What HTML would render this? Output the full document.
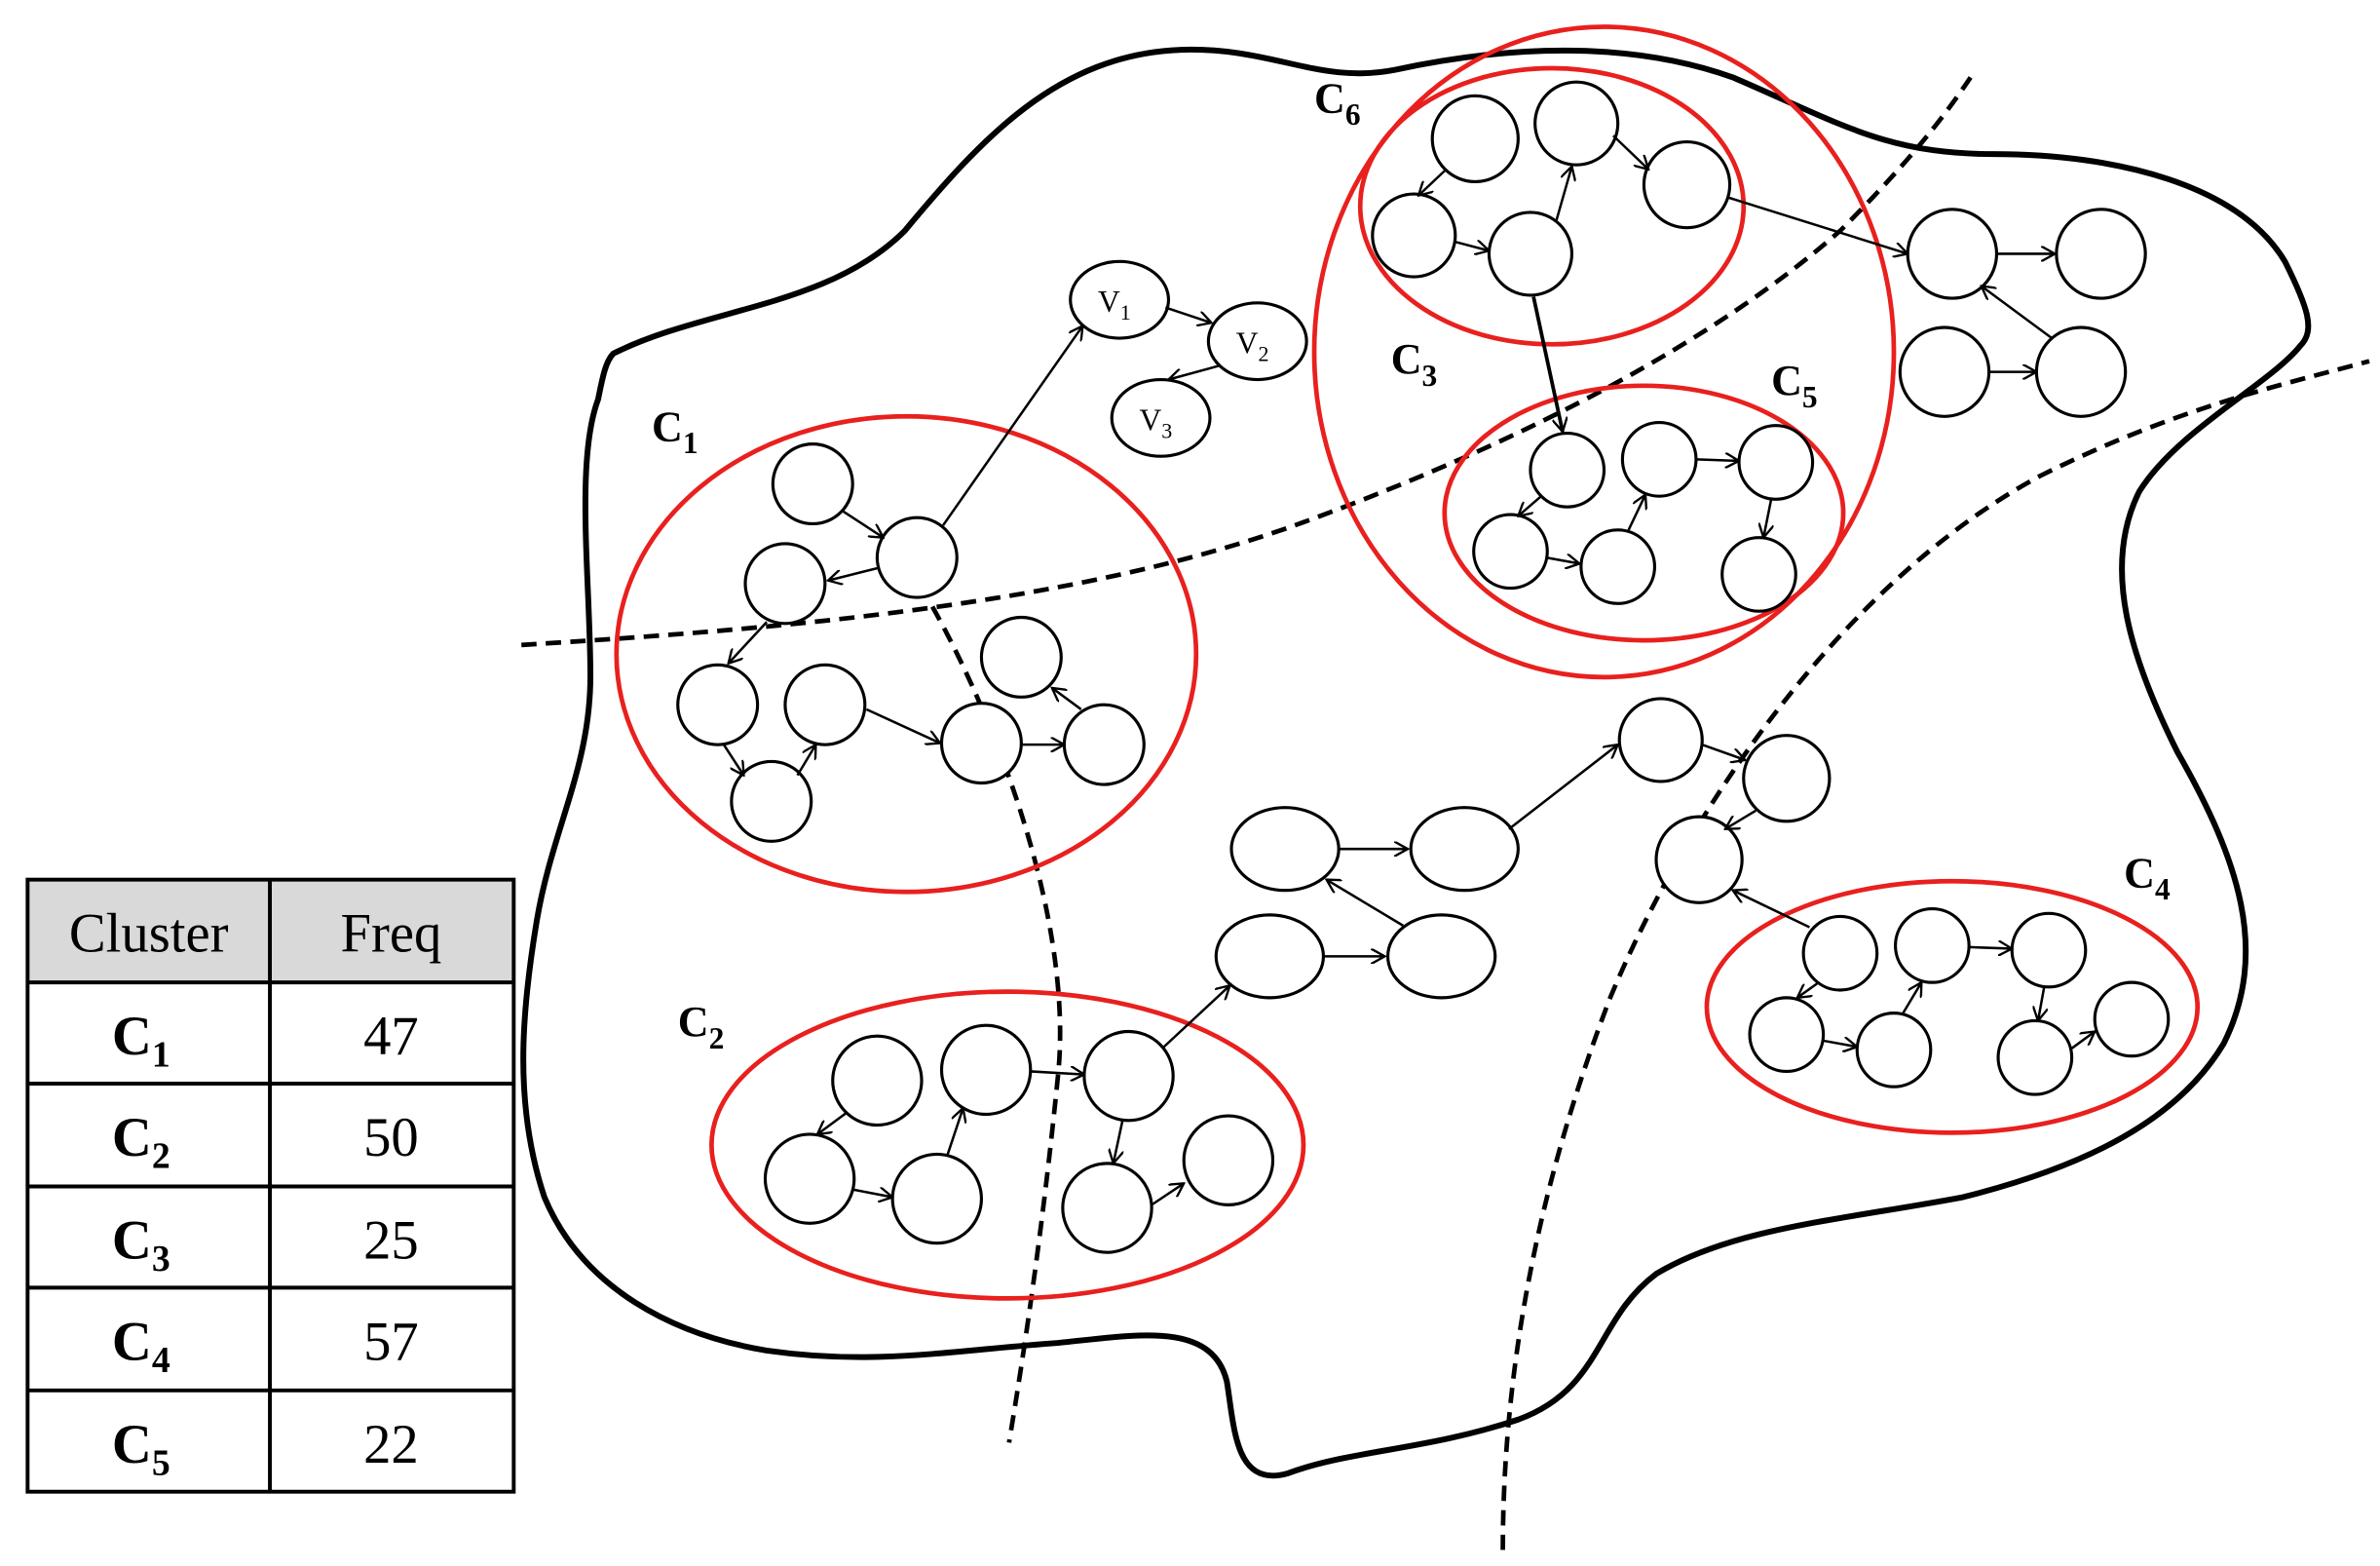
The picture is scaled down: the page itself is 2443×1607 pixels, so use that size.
<!DOCTYPE html>
<html><head><meta charset="utf-8"><style>
html,body{margin:0;padding:0;background:#fff}
svg{display:block}
text{font-family:"Liberation Serif",serif}
</style></head><body>
<svg width="2443" height="1607" viewBox="0 0 1552 1020" xmlns="http://www.w3.org/2000/svg">
<defs><marker id="a" markerWidth="10" markerHeight="10" refX="9" refY="5" orient="auto" markerUnits="userSpaceOnUse"><path d="M0,0 L9,5 L0,10" fill="none" stroke="#000" stroke-width="1.5"/></marker></defs>
<rect width="1552" height="1020" fill="#fff"/>
<path d="M400,230 C460,200 540,200 590,150 C640,90 690,35 770,32 C830,30 860,55 910,45 C980,30 1060,25 1130,50 C1200,80 1230,100 1300,100 C1380,100 1460,120 1490,170 C1505,200 1510,215 1500,225 C1480,250 1420,280 1395,320 C1370,370 1390,430 1420,490 C1460,560 1480,620 1450,680 C1420,730 1360,760 1280,780 C1200,795 1130,800 1080,830 C1040,860 1045,905 990,925 C930,945 880,945 840,960 C805,970 805,930 800,900 C790,860 740,870 690,875 C620,880 570,890 500,880 C440,870 380,840 355,780 C335,720 340,660 350,600 C360,540 385,500 385,440 C385,380 375,300 390,260 C393,245 395,235 400,230 Z" fill="none" stroke="#000" stroke-width="3.8"/>
<g fill="none" stroke="#000" stroke-width="3" stroke-dasharray="10,6">
<path d="M340,420 C500,410 700,395 850,340 C1000,285 1120,220 1200,150 C1240,110 1265,80 1285,50"/>
<path d="M608,395 C650,470 700,600 690,700 C680,800 668,880 658,940"/>
<path d="M980,1010 C980,900 1000,780 1050,650 C1100,530 1200,380 1330,310 C1420,265 1490,250 1545,235"/>
</g>
<g fill="none" stroke="#e8201e" stroke-width="3">
<ellipse cx="591" cy="426" rx="189" ry="155"/>
<ellipse cx="657" cy="746" rx="193" ry="100"/>
<ellipse cx="1046" cy="229" rx="189" ry="212"/>
<ellipse cx="1012" cy="134" rx="125" ry="90"/>
<ellipse cx="1072" cy="334" rx="130" ry="83"/>
<ellipse cx="1273" cy="656" rx="160" ry="82"/>
</g>
<g fill="#fff" stroke="#000" stroke-width="2">
<circle cx="530" cy="315" r="26"/><circle cx="598" cy="363" r="26"/><circle cx="512" cy="380" r="26"/>
<circle cx="468" cy="459" r="26"/><circle cx="538" cy="459" r="26"/><circle cx="503" cy="522" r="26"/>
<circle cx="640" cy="484" r="26"/><circle cx="666" cy="428" r="26"/><circle cx="720" cy="485" r="26"/>
<ellipse cx="730" cy="195" rx="32" ry="25"/><ellipse cx="820" cy="222" rx="32" ry="25"/><ellipse cx="757" cy="272" rx="32" ry="25"/>
<circle cx="962" cy="90" r="28"/><circle cx="1028" cy="80" r="27"/><circle cx="1100" cy="120" r="28"/>
<circle cx="922" cy="153" r="27"/><circle cx="998" cy="165" r="27"/>
<circle cx="1273" cy="165" r="29"/><circle cx="1370" cy="165" r="29"/><circle cx="1268" cy="242" r="29"/><circle cx="1357" cy="242" r="29"/>
<circle cx="1022" cy="306" r="24"/><circle cx="1082" cy="299" r="24"/><circle cx="1158" cy="301" r="24"/>
<circle cx="985" cy="359" r="24"/><circle cx="1055" cy="369" r="24"/><circle cx="1147" cy="374" r="24"/>
<ellipse cx="838" cy="553" rx="35" ry="27"/><ellipse cx="955" cy="553" rx="35" ry="27"/>
<ellipse cx="940" cy="623" rx="35" ry="27"/><ellipse cx="828" cy="623" rx="35" ry="27"/>
<circle cx="1083" cy="482" r="27"/><circle cx="1165" cy="507" r="28"/><circle cx="1108" cy="560" r="28"/>
<circle cx="1200" cy="621" r="24"/><circle cx="1260" cy="616" r="24"/><circle cx="1336" cy="619" r="24"/>
<circle cx="1165" cy="674" r="24"/><circle cx="1235" cy="684" r="24"/><circle cx="1327" cy="689" r="24"/><circle cx="1390" cy="664" r="24"/>
<circle cx="572" cy="704" r="29"/><circle cx="643" cy="697" r="29"/><circle cx="736" cy="701" r="29"/>
<circle cx="528" cy="768" r="29"/><circle cx="611" cy="781" r="29"/><circle cx="722" cy="787" r="29"/><circle cx="801" cy="756" r="29"/>
</g>
<g stroke="#000" stroke-width="1.6" marker-end="url(#a)">
<line x1="550" y1="333" x2="576" y2="350"/><line x1="572" y1="370" x2="540" y2="378"/>
<line x1="500" y1="405" x2="475" y2="432"/><line x1="472" y1="485" x2="485" y2="505"/>
<line x1="520" y1="505" x2="532" y2="485"/><line x1="565" y1="462" x2="613" y2="484"/>
<line x1="666" y1="485" x2="694" y2="485"/><line x1="705" y1="462" x2="686" y2="448"/>
<line x1="615" y1="342" x2="706" y2="212"/><line x1="760" y1="200" x2="790" y2="210"/>
<line x1="795" y1="238" x2="762" y2="247"/>
<line x1="943" y1="110" x2="925" y2="127"/><line x1="948" y1="157" x2="971" y2="163"/>
<line x1="1015" y1="143" x2="1025" y2="108"/><line x1="1052" y1="88" x2="1075" y2="110"/>
<line x1="1126" y1="128" x2="1244" y2="165"/><line x1="1302" y1="165" x2="1340" y2="165"/>
<line x1="1297" y1="242" x2="1328" y2="242"/><line x1="1338" y1="220" x2="1292" y2="186"/>
<line x1="1000" y1="193" x2="1019" y2="281" stroke-width="2.4"/>
<line x1="1005" y1="323" x2="990" y2="336"/><line x1="1008" y1="363" x2="1030" y2="367"/>
<line x1="1062" y1="345" x2="1073" y2="322"/><line x1="1106" y1="299" x2="1134" y2="300"/>
<line x1="1155" y1="325" x2="1150" y2="350"/>
<line x1="873" y1="553" x2="918" y2="553"/><line x1="915" y1="603" x2="865" y2="573"/>
<line x1="863" y1="623" x2="903" y2="623"/><line x1="984" y1="540" x2="1055" y2="485"/>
<line x1="1110" y1="485" x2="1138" y2="495"/><line x1="1145" y1="528" x2="1125" y2="540"/>
<line x1="1180" y1="604" x2="1130" y2="580"/>
<line x1="1186" y1="640" x2="1172" y2="650"/><line x1="1189" y1="678" x2="1211" y2="682"/>
<line x1="1241" y1="660" x2="1253" y2="640"/><line x1="1284" y1="617" x2="1312" y2="618"/>
<line x1="1333" y1="643" x2="1329" y2="665"/><line x1="1351" y1="683" x2="1366" y2="672"/>
<line x1="759" y1="682" x2="802" y2="642"/><line x1="672" y1="698" x2="707" y2="700"/>
<line x1="552" y1="725" x2="533" y2="739"/><line x1="556" y1="775" x2="582" y2="780"/>
<line x1="618" y1="752" x2="628" y2="722"/><line x1="732" y1="730" x2="726" y2="758"/>
<line x1="751" y1="785" x2="772" y2="771"/>
</g>
<g font-size="20">
<text x="716" y="203">V<tspan font-size="14" dy="5">1</tspan></text>
<text x="806" y="230">V<tspan font-size="14" dy="5">2</tspan></text>
<text x="743" y="280">V<tspan font-size="14" dy="5">3</tspan></text>
</g>
<g font-size="28" font-weight="bold">
<text x="425" y="287">C<tspan font-size="20" dy="8">1</tspan></text>
<text x="442" y="675">C<tspan font-size="20" dy="8">2</tspan></text>
<text x="907" y="243">C<tspan font-size="20" dy="8">3</tspan></text>
<text x="1385" y="578">C<tspan font-size="20" dy="8">4</tspan></text>
<text x="1155" y="257">C<tspan font-size="20" dy="8">5</tspan></text>
<text x="857" y="73">C<tspan font-size="20" dy="8">6</tspan></text>
</g>
<rect x="18" y="573" width="317" height="67" fill="#d9d9d9"/>
<g stroke="#000" stroke-width="2.5" fill="none">
<rect x="18" y="573" width="317" height="399"/>
<line x1="176" y1="573" x2="176" y2="972"/>
<line x1="18" y1="640" x2="335" y2="640"/><line x1="18" y1="706" x2="335" y2="706"/>
<line x1="18" y1="773" x2="335" y2="773"/><line x1="18" y1="839" x2="335" y2="839"/>
<line x1="18" y1="906" x2="335" y2="906"/>
</g>
<g font-size="36" text-anchor="middle">
<text x="97" y="620">Cluster</text><text x="255" y="620">Freq</text>
<text x="255" y="687">47</text><text x="255" y="753">50</text><text x="255" y="820">25</text><text x="255" y="886">57</text><text x="255" y="953">22</text>
</g>
<g font-size="36" text-anchor="middle" font-weight="bold">
<text x="92" y="687">C<tspan font-size="24" dy="8">1</tspan></text>
<text x="92" y="753">C<tspan font-size="24" dy="8">2</tspan></text>
<text x="92" y="820">C<tspan font-size="24" dy="8">3</tspan></text>
<text x="92" y="886">C<tspan font-size="24" dy="8">4</tspan></text>
<text x="92" y="953">C<tspan font-size="24" dy="8">5</tspan></text>
</g>
</svg>
</body></html>
